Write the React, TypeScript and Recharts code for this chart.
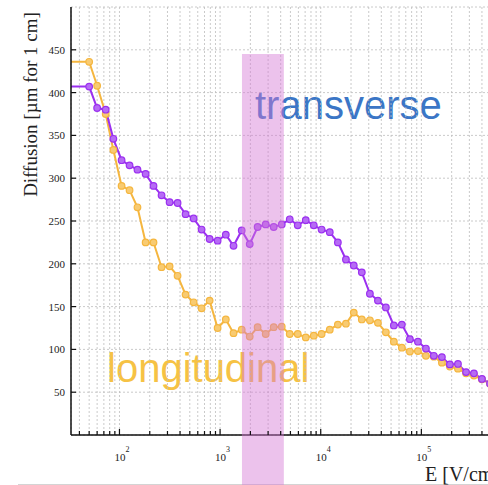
import { ComposedChart, Line, XAxis, YAxis, CartesianGrid, ReferenceArea } from "recharts";

// field values (V/cm); the first one sits left of the visible range
const eField = [
  30, 50, 60, 73, 87, 105, 126, 151, 182, 218, 262, 315, 378, 454, 546, 655, 787, 945,
  1140, 1360, 1640, 1970, 2360, 2840, 3410, 4100, 4920, 5910, 7100, 8530, 10200, 12300,
  14800, 17800, 21300, 25600, 30800, 37000, 44400, 53300, 64000, 76900, 92400, 111000,
  133000, 160000, 192000, 231000, 278000, 333000, 400000, 481000,
];
const transverse = [
  407, 407, 382, 380, 346, 321, 315, 310, 305, 291, 280, 272, 271, 258, 253, 240, 229, 227,
  234, 221, 239, 223, 243, 246, 243, 246, 252, 245, 251, 245, 240, 237, 225, 205, 198, 190,
  165, 157, 149, 128, 129, 112, 109, 101, 92.5, 91, 82.5, 83, 73.5, 72, 65.5, 60,
];
const longitudinal = [
  436, 436, 408, 375, 333, 291, 286, 266, 225, 225, 196, 197, 186, 164, 155, 148, 157, 125,
  135, 119, 123, 115, 126, 118, 126, 126.5, 118, 118, 114, 116, 118, 123, 129, 130, 143, 135,
  134, 131, 120, 109, 102, 97.5, 98, 92.5, 91.5, 84.5, 80, 77.5, 72, 69.5, 65, 60,
];

const xTicks = [
  40, 50, 60, 70, 80, 90,
  100, 200, 300, 400, 500, 600, 700, 800, 900,
  1000, 2000, 3000, 4000, 5000, 6000, 7000, 8000, 9000,
  10000, 20000, 30000, 40000, 50000, 60000, 70000, 80000, 90000,
  100000, 200000, 300000, 400000, 500000, 600000, 700000, 800000, 900000,
];
const xMajor = [100, 1000, 10000, 100000, 1000000];
const yTicks = [50, 100, 150, 200, 250, 300, 350, 400, 450];

const bandFrom = 1650;
const bandTo = 4300;
const bandTop = 445;

const data = eField.map((e, i) => ({ e, transverse: transverse[i], longitudinal: longitudinal[i] }));

const serif = "'Liberation Serif', 'Times New Roman', serif";
const sans = "'Liberation Sans', Arial, sans-serif";

const BottomTick = ({ x, y, payload }: any) => {
  const v = payload.value;
  const major = xMajor.includes(v);
  return (
    <g>
      <line x1={x} x2={x} y1={y} y2={y - (major ? 6 : 4)} stroke="#111" strokeWidth={1.2} />
      {major && (
        <text x={x - 5} y={y + 26} fontFamily={serif} fontSize={11} fill="#222">
          10
          <tspan dy={-9} fontSize={8}>
            {Math.round(Math.log10(v))}
          </tspan>
        </text>
      )}
    </g>
  );
};

const TopTick = ({ x, y, payload }: any) => {
  const major = xMajor.includes(payload.value);
  return <line x1={x} x2={x} y1={y} y2={y + (major ? 6 : 4)} stroke="#111" strokeWidth={1.2} />;
};

const LeftTick = ({ x, y, payload }: any) => (
  <g>
    <line x1={x} x2={x + 5} y1={y} y2={y} stroke="#111" strokeWidth={1.2} />
    <text x={x - 6} y={y + 4} textAnchor="end" fontFamily={serif} fontSize={11} fill="#222">
      {payload.value}
    </text>
  </g>
);

const App = () => (
  <div style={{ position: "absolute", left: 0, top: 0, width: 488, height: 485, overflow: "hidden", background: "#fff" }}>
    <svg width={488} height={485} style={{ position: "absolute", left: 0, top: 0 }}>
      <text x={255} y={118.5} fontFamily={sans} fontSize={40} fill="#3b76c6">
        transverse
      </text>
      <text x={107} y={381.5} fontFamily={sans} fontSize={40} fill="#f6c244">
        longitudinal
      </text>
      <line x1={18} x2={488} y1={484.5} y2={484.5} stroke="#d4d4d4" />
    </svg>
    <div style={{ position: "absolute", left: 0, top: 0 }}>
      <ComposedChart width={540} height={485} data={data} margin={{ top: 7, right: 18, bottom: 10, left: 0 }}>
        <CartesianGrid strokeDasharray="2 2" stroke="#bdbdbd" strokeWidth={0.8} />
        <XAxis
          dataKey="e"
          type="number"
          scale="log"
          domain={[33, 1000000]}
          allowDataOverflow
          ticks={xTicks}
          interval={0}
          height={40}
          tickSize={0}
          tickMargin={0}
          tickLine={false}
          axisLine={{ stroke: "#111", strokeWidth: 1.5 }}
          tick={(p: any) => <BottomTick {...p} />}
          label={{
            content: () => (
              <text x={425} y={481} fontFamily={serif} fontSize={20} fill="#222">
                E [V/cm]
              </text>
            ),
          }}
        />
        <XAxis
          xAxisId="top"
          orientation="top"
          dataKey="e"
          type="number"
          scale="log"
          domain={[33, 1000000]}
          allowDataOverflow
          ticks={xTicks}
          interval={0}
          height={0}
          tickSize={0}
          tickMargin={0}
          tickLine={false}
          axisLine={{ stroke: "#111", strokeWidth: 1.5 }}
          tick={(p: any) => <TopTick {...p} />}
        />
        <YAxis
          type="number"
          domain={[0, 500]}
          ticks={yTicks}
          interval={0}
          width={71}
          tickSize={0}
          tickMargin={0}
          tickLine={false}
          axisLine={{ stroke: "#111", strokeWidth: 1.5 }}
          tick={(p: any) => <LeftTick {...p} />}
          label={{
            content: () => (
              <text
                transform="translate(36.5,104.5) rotate(-90)"
                textAnchor="middle"
                fontFamily={serif}
                fontSize={19}
                fill="#222"
              >
                Diffusion [µm for 1 cm]
              </text>
            ),
          }}
        />
        <Line
          dataKey="longitudinal"
          stroke="#f5b63f"
          strokeWidth={2}
          dot={{ r: 3.3, fill: "#f8cb72", stroke: "#f5b63f", strokeWidth: 1.2 }}
          isAnimationActive={false}
        />
        <Line
          dataKey="transverse"
          stroke="#9b30f0"
          strokeWidth={2}
          dot={{ r: 3.3, fill: "#b66bf5", stroke: "#9b30f0", strokeWidth: 1.2 }}
          isAnimationActive={false}
        />
        <ReferenceArea
          x1={bandFrom}
          x2={bandTo}
          y1={-60}
          y2={bandTop}
          fill="#d477d4"
          fillOpacity={0.45}
          stroke="none"
          ifOverflow="visible"
          zIndex={600}
        />
      </ComposedChart>
    </div>
  </div>
);

export default App;
